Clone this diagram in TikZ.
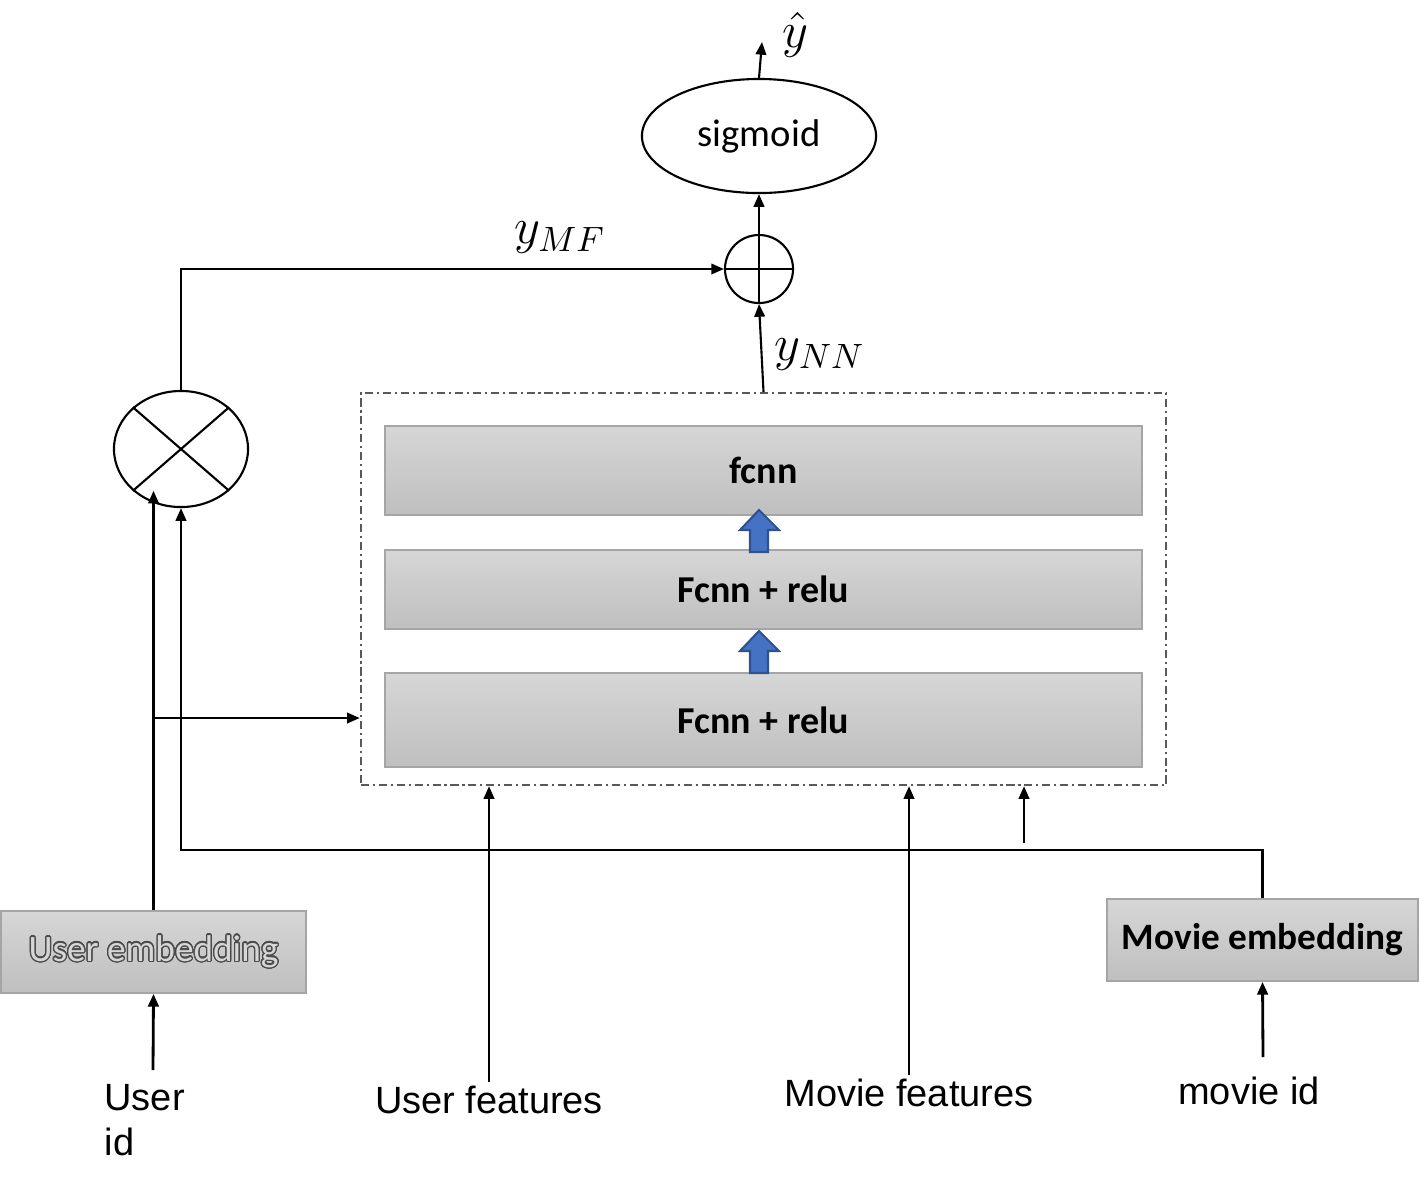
\documentclass[tikz,border=0pt]{standalone}
\usepackage{fontspec}
\setmainfont{Carlito}
\newfontfamily\arialfont{Liberation Sans}
\usepackage{contour}
\contourlength{0.35pt}
\contournumber{24}
\usetikzlibrary{shapes.geometric,arrows.meta}

\definecolor{boxtop}{HTML}{D6D6D6}
\definecolor{boxbot}{HTML}{BFBFBF}
\definecolor{boxline}{HTML}{A5A5A5}
\definecolor{arrowfill}{HTML}{4472C4}
\definecolor{arrowline}{HTML}{2F528F}

\newcommand{\outlined}[1]{\contour{black!70}{\textcolor{boxtop}{#1}}}

\tikzset{
  layer/.style={draw=boxline, line width=0.5pt, top color=boxtop, bottom color=boxbot,
    minimum width=7.57cm, font=\fontsize{10.8}{13}\selectfont\bfseries},
  embed/.style={draw=boxline, line width=0.5pt, top color=boxtop, bottom color=boxbot,
    minimum height=0.82cm, font=\fontsize{10.6}{13}\selectfont},
  nnframe/.style={draw=black!65, line width=0.6pt,
    dash pattern=on 2.3pt off 1.1pt on 0.6pt off 1.1pt,
    minimum width=8.05cm, minimum height=3.92cm},
  opnode/.style={draw, line width=0.6pt, inner sep=0pt},
  inlabel/.style={font=\arialfont\fontsize{10.8}{12.8}\selectfont, inner sep=1pt},
  bigarrow/.style={fill=arrowfill, draw=arrowline, line width=0.6pt, line join=miter}
}

\begin{document}
\begin{tikzpicture}[x=0.01cm, y=-0.01cm, >={Triangle[length=3.6pt,width=3pt]}, line width=0.6pt]
    \useasboundingbox (0,0) rectangle (1419,1190);

    % Блок нейросети
    \node[nnframe] (nn) at (763.5,589) {};
    \node[layer, minimum height=0.89cm] (fc) at (763.5,470.5) {fcnn};
    \node[layer, minimum height=0.79cm] (relu2) at (763.5,589.5) {Fcnn + relu};
    \node[layer, minimum height=0.94cm] (relu1) at (763.5,720) {Fcnn + relu};

    % Синие стрелки между слоями
    \foreach \yb in {552,673}
        \draw[bigarrow] (750,\yb) -- (750,\yb-22) -- (740,\yb-22) -- (759,\yb-42)
            -- (779,\yb-22) -- (768,\yb-22) -- (768,\yb) -- cycle;

    % Операции
    \node[opnode, ellipse, minimum width=2.34cm, minimum height=1.14cm,
          font=\fontsize{11}{13}\selectfont] (sig) at (759,136) {sigmoid};
    \node[opnode, circle, minimum size=0.68cm] (plus) at (759,269) {};
    \node[opnode, ellipse, minimum width=1.34cm, minimum height=1.16cm] (times) at (181,449) {};
    \draw (plus.north) -- (plus.south) (plus.west) -- (plus.east);
    \draw (times.north west) -- (times.south east) (times.north east) -- (times.south west);

    % Эмбеддинги
    \node[embed, minimum width=3.05cm] (uemb) at (153.5,952) {\outlined{User embedding}};
    \node[embed, minimum width=3.11cm, font=\fontsize{10.6}{13}\selectfont\bfseries] (memb) at (1262.5,940) {Movie embedding};

    % Входы
    \node[inlabel, anchor=north west, align=left] (uid) at (100,1080) {User\\id};
    \node[inlabel] (ufeat) at (489,1100) {User features};
    \node[inlabel] (mfeat) at (909,1093) {Movie features};
    \node[inlabel] (mid) at (1249,1091) {movie id};
    \node (yhat) at (795,35) {\Large$\hat{y}$};
    \node at (560,238) {\Large$y_{MF}$};
    \node at (820,355) {\Large$y_{NN}$};

    \coordinate (uidtop) at (153,1070);
    \coordinate (midtop) at (1263,1057);
    \coordinate (ubranch) at (153,718);
    \coordinate (mrail) at (1024,850);
    \coordinate (mtap) at (1024,843);
    \coordinate (out) at (762,42);

    % Стрелки входов
    \draw[->, line width=0.8pt] (uidtop) -- (uemb.south);
    \draw[->, line width=0.8pt] (midtop) -- (memb.south);
    \draw[->] (ufeat.north) -- (ufeat.north |- nn.south);
    \draw[->] (mfeat.north) -- (mfeat.north |- nn.south);

    % Пути эмбеддингов
    \draw[->] (uemb.north) -- (uemb.north |- times.south west);
    \draw[->] (ubranch) -- (ubranch -| nn.west);
    \draw[->] (memb.north) |- (mrail) -| (times.south);
    \draw[->] (mtap) -- (mtap |- nn.south);

    % Выход
    \draw[->] (times.north) |- (plus.west);
    \draw[->] (nn.north) -- (plus.south);
    \draw[->] (plus.north) -- (sig.south);
    \draw[->] (sig.north) -- (out);
\end{tikzpicture}
\end{document}
